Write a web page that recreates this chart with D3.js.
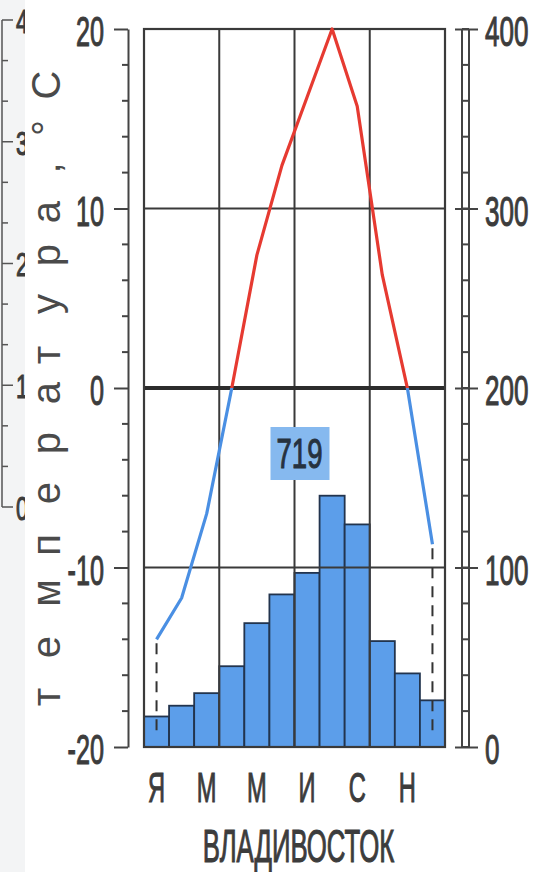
<!DOCTYPE html>
<html>
<head>
<meta charset="utf-8">
<script src="https://cdn.jsdelivr.net/npm/d3@7"></script>
<style>
  html, body { margin: 0; padding: 0; background: #fff; }
  svg { display: block; }
  text { font-family: "Liberation Sans", Arial, sans-serif; fill: #383838; }
  .num { fill: #3c3c3c; stroke: #3c3c3c; stroke-width: 1.1px; }
</style>
</head>
<body>
<svg id="chart"></svg>
<script>
// climate data, Vladivostok
const months = ['Я', 'Ф', 'М', 'А', 'М', 'И', 'И', 'А', 'С', 'О', 'Н', 'Д'];
const monthLabelIdx = [0, 2, 4, 6, 8, 10];
const precip = [17, 23, 30, 45, 69, 85, 97, 140, 124, 59, 41, 26];     // mm
const temp = [-14, -11.7, -7, 0, 7.4, 12.4, 16.2, 20, 15.7, 6.3, 0, -8.7]; // °C
const tempTicks = [-20, -10, 0, 10, 20];
const precipTicks = [0, 100, 200, 300, 400];
const totalPrecip = 719;
const city = 'ВЛАДИВОСТОК';
const yTitle = 'температура,°С';
// neighbouring chart cut off at the left edge
const sideTicks = [0, 1, 2, 3, 4];

const W = 539, H = 872;
const margin = {top: 29, right: 94, bottom: 125, left: 144};

const svg = d3.select('#chart').attr('width', W).attr('height', H);

const x = d3.scaleBand().domain(d3.range(12)).range([margin.left, W - margin.right]);
const yT = d3.scaleLinear().domain([-20, 20]).range([H - margin.bottom, margin.top]);
const yP = d3.scaleLinear().domain([0, 400]).range([H - margin.bottom, margin.top]);
const x0 = margin.left, x1 = W - margin.right, yTop = margin.top, yBot = H - margin.bottom;

// squeeze text horizontally around its own x
function squeeze(sel, k) {
  sel.attr('transform', function() {
    const tx = +this.getAttribute('x') || 0;
    return `translate(${tx},0) scale(${k},1) translate(${-tx},0)`;
  });
}

// ---- fragment of neighbour chart on the left edge
svg.append('rect').attr('x', 0).attr('y', 0).attr('width', 25).attr('height', H).attr('fill', '#f3f4f5');
const sideY = d3.scaleLinear().domain([0, 4]).range([507, 20]);
svg.append('clipPath').attr('id', 'sideClip')
  .append('rect').attr('x', 0).attr('y', 0).attr('width', 25).attr('height', H);
const side = svg.append('g').attr('clip-path', 'url(#sideClip)');
side.append('line').attr('x1', 2).attr('x2', 2).attr('y1', sideY(4)).attr('y2', sideY(0))
  .attr('stroke', '#555').attr('stroke-width', 1.5);
side.selectAll('.side-minor').data(d3.range(0, 4.01, 1 / 3)).join('line')
  .attr('x1', 2).attr('x2', d => Math.abs(d - Math.round(d)) < 0.01 ? 13 : 8)
  .attr('y1', d => sideY(d)).attr('y2', d => sideY(d))
  .attr('stroke', '#555').attr('stroke-width', 1.5);
side.selectAll('.side-label').data(sideTicks).join('text')
  .attr('class', 'num')
  .attr('x', 16).attr('y', d => sideY(d) + 13)
  .attr('font-size', 34)
  .text(d => d)
  .call(squeeze, 0.65);

// ---- bars
const barG = svg.append('g');
barG.selectAll('rect').data(precip).join('rect')
  .attr('x', (d, i) => x(i))
  .attr('y', d => yP(d))
  .attr('width', x.bandwidth())
  .attr('height', d => yP(0) - yP(d))
  .attr('fill', '#5c9eea')
  .attr('stroke', '#22344e')
  .attr('stroke-width', 1.8);

// ---- grid
const grid = svg.append('g').attr('stroke', '#3a3a3a');
grid.selectAll('.hg').data([10, -10]).join('line')
  .attr('x1', x0).attr('x2', x1).attr('y1', d => yT(d)).attr('y2', d => yT(d))
  .attr('stroke-width', 2);
grid.selectAll('.vg').data([3, 6, 9]).join('line')
  .attr('x1', d => x(d)).attr('x2', d => x(d)).attr('y1', yTop).attr('y2', yBot)
  .attr('stroke-width', 2);
grid.append('line').attr('x1', x0).attr('x2', x1).attr('y1', yT(0)).attr('y2', yT(0))
  .attr('stroke', '#2c2c2c').attr('stroke-width', 4);
grid.append('rect').attr('x', x0).attr('y', yTop).attr('width', x1 - x0).attr('height', yBot - yTop)
  .attr('fill', 'none').attr('stroke-width', 2.2);

// ---- dashed drops at the ends of the temperature curve
svg.selectAll('.drop').data([0, 11]).join('line')
  .attr('x1', i => x(i) + x.bandwidth() / 2).attr('x2', i => x(i) + x.bandwidth() / 2)
  .attr('y1', i => yT(temp[i]) + 4).attr('y2', yBot - 12)
  .attr('stroke', '#333').attr('stroke-width', 2).attr('stroke-dasharray', '11,8');

// ---- temperature line, red above zero, blue below
const line = d3.line()
  .x((d, i) => x(i) + x.bandwidth() / 2)
  .y(d => yT(d));
svg.append('clipPath').attr('id', 'warm')
  .append('rect').attr('x', 0).attr('y', 0).attr('width', W).attr('height', yT(0));
svg.append('clipPath').attr('id', 'cold')
  .append('rect').attr('x', 0).attr('y', yT(0)).attr('width', W).attr('height', H - yT(0));
svg.append('path').datum(temp).attr('d', line)
  .attr('fill', 'none').attr('stroke', '#e63a31').attr('stroke-width', 3.2)
  .attr('stroke-linejoin', 'round').attr('clip-path', 'url(#warm)');
svg.append('path').datum(temp).attr('d', line)
  .attr('fill', 'none').attr('stroke', '#4a8fe3').attr('stroke-width', 3.2)
  .attr('stroke-linejoin', 'round').attr('clip-path', 'url(#cold)');

// ---- yearly total label
const lx = x(6) + 5;
svg.append('rect').attr('x', lx - 29).attr('y', 427).attr('width', 59).attr('height', 53)
  .attr('fill', '#86b9ef');
svg.append('text').attr('class', 'num').attr('x', lx).attr('y', 468).attr('text-anchor', 'middle')
  .attr('font-size', 43).style('fill', '#26323f').style('stroke', '#26323f')
  .text(totalPrecip)
  .call(squeeze, 0.64);

// ---- left temperature axis
const leftAxis = d3.axisLeft(yT).tickValues(tempTicks).tickFormat(d => String(d))
  .tickSize(14).tickSizeOuter(0).tickPadding(10);
const gl = svg.append('g').attr('transform', `translate(128,0)`).call(leftAxis);
gl.select('.domain').attr('stroke', '#444').attr('stroke-width', 2);
gl.selectAll('.tick line').attr('stroke', '#444').attr('stroke-width', 2);
gl.selectAll('.tick text').attr('class', 'num').attr('font-size', 42).attr('dy', '0.4em')
  .call(squeeze, 0.6);
gl.selectAll('.minor').data(d3.range(-20, 20.1, 2).filter(d => d % 10 !== 0)).join('line')
  .attr('x1', -6).attr('x2', 0).attr('y1', d => yT(d)).attr('y2', d => yT(d))
  .attr('stroke', '#444').attr('stroke-width', 2);

// ---- right precipitation axis (ladder)
const rightAxis = d3.axisRight(yP).tickValues(precipTicks).tickSize(23).tickSizeOuter(0).tickPadding(7);
const gr = svg.append('g').attr('transform', `translate(455,0)`).call(rightAxis);
gr.select('.domain').remove();
gr.selectAll('.tick line').attr('stroke', '#444').attr('stroke-width', 2);
gr.selectAll('.tick text').attr('class', 'num').attr('font-size', 42).attr('dy', '0.4em')
  .call(squeeze, 0.62);
gr.selectAll('.rail').data([7, 14]).join('line')
  .attr('x1', d => d).attr('x2', d => d).attr('y1', yP(400)).attr('y2', yP(0))
  .attr('stroke', '#444').attr('stroke-width', 2);
gr.selectAll('.rung').data(d3.range(0, 401, 20)).join('line')
  .attr('x1', 7).attr('x2', 14).attr('y1', d => yP(d)).attr('y2', d => yP(d))
  .attr('stroke', '#444').attr('stroke-width', 2);

// ---- month labels
const bottomAxis = d3.axisBottom(x).tickValues(monthLabelIdx).tickFormat(i => months[i])
  .tickSize(0).tickPadding(24);
const gb = svg.append('g').attr('transform', `translate(0,${yBot})`).call(bottomAxis);
gb.select('.domain').remove();
gb.selectAll('.tick text').attr('class', 'num').attr('font-size', 43).call(squeeze, 0.55);

// ---- city name
svg.append('text').attr('class', 'num').attr('x', (x0 + x1) / 2 + 4).attr('y', 862)
  .attr('text-anchor', 'middle')
  .attr('font-size', 46)
  .text(city)
  .call(squeeze, 0.56);

// ---- rotated axis title, letters spread along the axis
const titleY = [697, 647, 593, 545, 493, 443, 393, 355, 304, 255, 212, 168, 128, 85];
svg.append('text')
  .attr('transform', 'translate(60,0) rotate(-90)')
  .attr('x', titleY.map(d => -d).join(' '))
  .attr('y', 0)
  .attr('text-anchor', 'middle')
  .attr('font-size', 40).style('fill', '#4a4a4a')
  .text(yTitle);
</script>
</body>
</html>
